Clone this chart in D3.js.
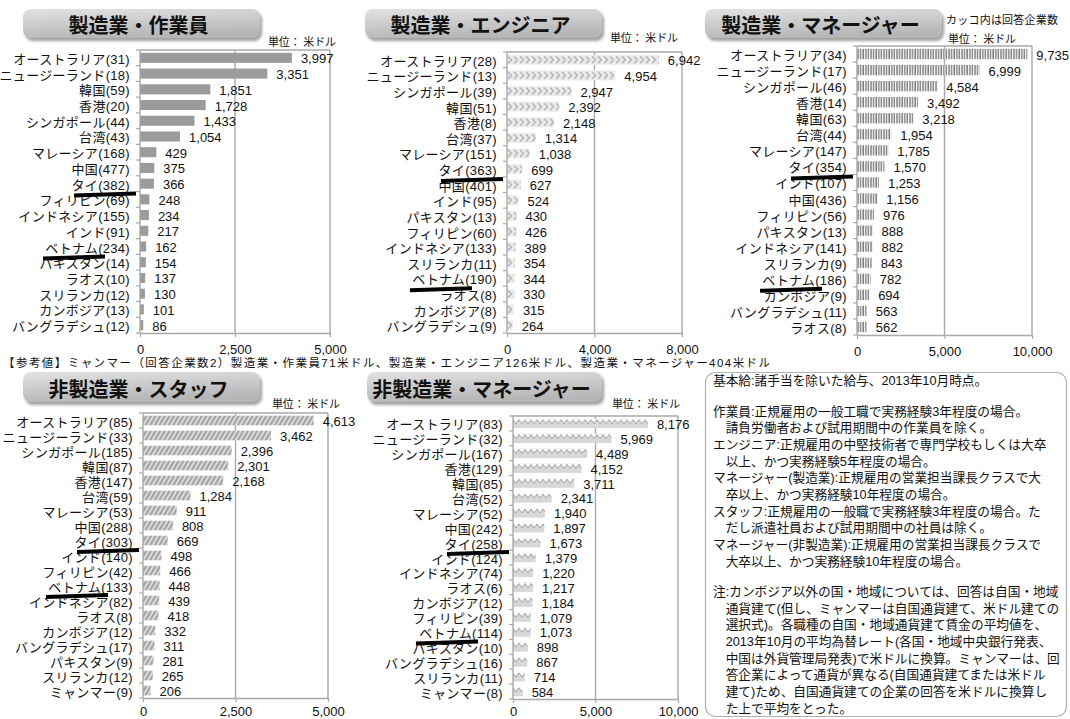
<!DOCTYPE html>
<html>
<head>
<meta charset="utf-8">
<script src="https://cdn.jsdelivr.net/npm/d3@7"></script>
<style>
  body { margin: 0; background: #fff; }
  svg text { font-family: "Liberation Sans", "Noto Sans CJK JP", sans-serif; fill: #111; }
</style>
</head>
<body>
<div id="chart"></div>
<script>
// ---- data ----
const mfgWorkerLabels = ["オーストラリア(31)", "ニュージーランド(18)", "韓国(59)", "香港(20)", "シンガポール(44)", "台湾(43)", "マレーシア(168)", "中国(477)", "タイ(382)", "フィリピン(69)", "インドネシア(155)", "インド(91)", "ベトナム(234)", "パキスタン(14)", "ラオス(10)", "スリランカ(12)", "カンボジア(13)", "バングラデシュ(12)"];
const mfgWorkerValues = [3997, 3351, 1851, 1728, 1433, 1054, 429, 375, 366, 248, 234, 217, 162, 154, 137, 130, 101, 86];

const mfgEngineerLabels = ["オーストラリア(28)", "ニュージーランド(13)", "シンガポール(39)", "韓国(51)", "香港(8)", "台湾(37)", "マレーシア(151)", "タイ(363)", "中国(401)", "インド(95)", "パキスタン(13)", "フィリピン(60)", "インドネシア(133)", "スリランカ(11)", "ベトナム(190)", "ラオス(8)", "カンボジア(8)", "バングラデシュ(9)"];
const mfgEngineerValues = [6942, 4954, 2947, 2392, 2148, 1314, 1038, 699, 627, 524, 430, 426, 389, 354, 344, 330, 315, 264];

const mfgManagerLabels = ["オーストラリア(34)", "ニュージーランド(17)", "シンガポール(46)", "香港(14)", "韓国(63)", "台湾(44)", "マレーシア(147)", "タイ(354)", "インド(107)", "中国(436)", "フィリピン(56)", "パキスタン(13)", "インドネシア(141)", "スリランカ(9)", "ベトナム(186)", "カンボジア(9)", "バングラデシュ(11)", "ラオス(8)"];
const mfgManagerValues = [9735, 6999, 4584, 3492, 3218, 1954, 1785, 1570, 1253, 1156, 976, 888, 882, 843, 782, 694, 563, 562];

const staffLabels = ["オーストラリア(85)", "ニュージーランド(33)", "シンガポール(185)", "韓国(87)", "香港(147)", "台湾(59)", "マレーシア(53)", "中国(288)", "タイ(303)", "インド(140)", "フィリピン(42)", "ベトナム(133)", "インドネシア(82)", "ラオス(8)", "カンボジア(12)", "バングラデシュ(17)", "パキスタン(9)", "スリランカ(12)", "ミャンマー(9)"];
const staffValues = [4613, 3462, 2396, 2301, 2168, 1284, 911, 808, 669, 498, 466, 448, 439, 418, 332, 311, 281, 265, 206];

const nonMfgManagerLabels = ["オーストラリア(83)", "ニュージーランド(32)", "シンガポール(167)", "香港(129)", "韓国(85)", "台湾(52)", "マレーシア(52)", "中国(242)", "タイ(258)", "インド(124)", "インドネシア(74)", "ラオス(6)", "カンボジア(12)", "フィリピン(39)", "ベトナム(114)", "パキスタン(10)", "バングラデシュ(16)", "スリランカ(11)", "ミャンマー(8)"];
const nonMfgManagerValues = [8176, 5969, 4489, 4152, 3711, 2341, 1940, 1897, 1673, 1379, 1220, 1217, 1184, 1079, 1073, 898, 867, 714, 584];

const ticks5000 = [0, 2500, 5000];
const ticks8000 = [0, 4000, 8000];
const ticks10000 = [0, 5000, 10000];

const panelTitles = ["製造業・作業員", "製造業・エンジニア", "製造業・マネージャー", "非製造業・スタッフ", "非製造業・マネージャー"];
const unitText = "単位：  米ドル";
const countNote = "カッコ内は回答企業数";
const myanmarNote = "【参考値】ミャンマー（回答企業数2）製造業・作業員71米ドル、製造業・エンジニア126米ドル、製造業・マネージャー404米ドル";
const markedPrefixes = ["タイ(", "ベトナム("];

const notesLines = [
  "基本給:諸手当を除いた給与、2013年10月時点。",
  "",
  "作業員:正規雇用の一般工職で実務経験3年程度の場合。",
  "　請負労働者および試用期間中の作業員を除く。",
  "エンジニア:正規雇用の中堅技術者で専門学校もしくは大卒",
  "　以上、かつ実務経験5年程度の場合。",
  "マネージャー(製造業):正規雇用の営業担当課長クラスで大",
  "　卒以上、かつ実務経験10年程度の場合。",
  "スタッフ:正規雇用の一般職で実務経験3年程度の場合。た",
  "　だし派遣社員および試用期間中の社員は除く。",
  "マネージャー(非製造業):正規雇用の営業担当課長クラスで",
  "　大卒以上、かつ実務経験10年程度の場合。",
  "",
  "注:カンボジア以外の国・地域については、回答は自国・地域",
  "　通貨建て(但し、ミャンマーは自国通貨建て、米ドル建ての",
  "　選択式)。各職種の自国・地域通貨建て賃金の平均値を、",
  "　2013年10月の平均為替レート(各国・地域中央銀行発表、",
  "　中国は外貨管理局発表)で米ドルに換算。ミャンマーは、回",
  "　答企業によって通貨が異なる(自国通貨建てまたは米ドル",
  "　建て)ため、自国通貨建ての企業の回答を米ドルに換算し",
  "　た上で平均をとった。"
];

// ---- layout ----
const W = 1070, H = 719;
const svg = d3.select("#chart").append("svg")
  .attr("width", W).attr("height", H);

const defs = svg.append("defs");

const grad = defs.append("linearGradient")
  .attr("id", "titleGrad").attr("x1", 0).attr("y1", 0).attr("x2", 0.3).attr("y2", 1);
grad.append("stop").attr("offset", "0%").attr("stop-color", "#e2e2e2");
grad.append("stop").attr("offset", "100%").attr("stop-color", "#b6b6b6");

const shadow = defs.append("filter").attr("id", "titleShadow")
  .attr("x", "-10%").attr("y", "-30%").attr("width", "130%").attr("height", "180%");
shadow.append("feDropShadow").attr("dx", 2).attr("dy", 3)
  .attr("stdDeviation", 1.8).attr("flood-color", "#777").attr("flood-opacity", 0.7);

// bar patterns (bars are drawn at local y=0, so patterns line up per bar)
const pChev = defs.append("pattern").attr("id", "pChev")
  .attr("patternUnits", "userSpaceOnUse").attr("width", 6).attr("height", 10);
pChev.append("rect").attr("width", 6).attr("height", 10).attr("fill", "#ececec");
pChev.append("path").attr("d", "M1,1.5 L4.5,5 L1,8.5").attr("fill", "none")
  .attr("stroke", "#b5b5b5").attr("stroke-width", 1.6);

const pDash = defs.append("pattern").attr("id", "pDash")
  .attr("patternUnits", "userSpaceOnUse").attr("width", 2.6).attr("height", 10);
pDash.append("rect").attr("width", 2.6).attr("height", 10).attr("fill", "#fff");
pDash.append("line").attr("x1", 1).attr("x2", 1).attr("y1", 0).attr("y2", 10)
  .attr("stroke", "#7a7a7a").attr("stroke-width", 1.4);

const pDiag = defs.append("pattern").attr("id", "pDiag")
  .attr("patternUnits", "userSpaceOnUse").attr("width", 4).attr("height", 4)
  .attr("patternTransform", "rotate(30)");
pDiag.append("rect").attr("width", 4).attr("height", 4).attr("fill", "#a3a3a3");
pDiag.append("line").attr("x1", 1).attr("x2", 1).attr("y1", 0).attr("y2", 4)
  .attr("stroke", "#fff").attr("stroke-width", 1.2);

const pZig = defs.append("pattern").attr("id", "pZig")
  .attr("patternUnits", "userSpaceOnUse").attr("width", 6).attr("height", 10);
pZig.append("rect").attr("width", 6).attr("height", 10).attr("fill", "#d8d8d8");
pZig.append("path").attr("d", "M0,0 L6,0 L6,1 L3,5 L0,1 Z").attr("fill", "#fff");
pZig.append("path").attr("d", "M0,1 L3,5 L6,1").attr("fill", "none")
  .attr("stroke", "#999").attr("stroke-width", 1);

const panels = [
  { title: panelTitles[0], labels: mfgWorkerLabels, values: mfgWorkerValues, ticks: ticks5000,
    box: [23, 9, 237, 29], unit: [268, 42], x0: 140, x1: 330, y0: 50, y1: 333, fill: "#9b9b9b", tickY: 349 },
  { title: panelTitles[1], labels: mfgEngineerLabels, values: mfgEngineerValues, ticks: ticks8000,
    box: [365, 9, 237, 29], unit: [610, 38], x0: 507, x1: 682, y0: 52, y1: 333, fill: "url(#pChev)", tickY: 349 },
  { title: panelTitles[2], labels: mfgManagerLabels, values: mfgManagerValues, ticks: ticks10000,
    box: [705, 9, 237, 29], unit: [948, 39], x0: 857, x1: 1032, y0: 46, y1: 335, fill: "url(#pDash)", tickY: 351 },
  { title: panelTitles[3], labels: staffLabels, values: staffValues, ticks: ticks5000,
    box: [23, 372, 237, 30], unit: [272, 404], x0: 143, x1: 328, y0: 413, y1: 698, fill: "url(#pDiag)", tickY: 711 },
  { title: panelTitles[4], labels: nonMfgManagerLabels, values: nonMfgManagerValues, ticks: ticks10000,
    box: [367, 372, 235, 30], unit: [612, 404], x0: 513, x1: 678, y0: 416, y1: 699, fill: "url(#pZig)", tickY: 711 }
];

const frameColor = "#a9a9a9";
const fmt = d3.format(",");

function drawPanel(p) {
  const g = svg.append("g");

  // title badge
  const [bx, by, bw, bh] = p.box;
  g.append("rect")
    .attr("x", bx).attr("y", by).attr("width", bw).attr("height", bh)
    .attr("rx", 8).attr("fill", "url(#titleGrad)")
    .attr("filter", "url(#titleShadow)");
  g.append("text")
    .attr("x", bx + bw / 2 - 3).attr("y", by + bh / 2 + 1)
    .attr("text-anchor", "middle").attr("dominant-baseline", "central")
    .style("font-family", "'Noto Sans CJK JP', sans-serif")
    .style("font-size", "20px").style("font-weight", "bold")
    .text(p.title);

  g.append("text")
    .attr("x", p.unit[0]).attr("y", p.unit[1])
    .attr("dominant-baseline", "central")
    .attr("textLength", 68).attr("lengthAdjust", "spacing")
    .style("font-size", "11px")
    .text(unitText);

  const x = d3.scaleLinear().domain([0, p.ticks[p.ticks.length - 1]]).range([p.x0, p.x1]);
  const y = d3.scaleBand().domain(p.labels).range([p.y0, p.y1]).paddingInner(0.36).paddingOuter(0.18);
  const step = y.step();

  // frame: top, right, mid grid
  p.ticks.slice(1).forEach(t => {
    g.append("line")
      .attr("x1", x(t)).attr("x2", x(t)).attr("y1", p.y0).attr("y2", p.y1)
      .attr("stroke", frameColor).attr("stroke-width", 1.4);
  });
  g.append("line")
    .attr("x1", p.x0).attr("x2", p.x1).attr("y1", p.y0).attr("y2", p.y0)
    .attr("stroke", frameColor).attr("stroke-width", 1.4);

  const rows = p.labels.map((l, i) => ({ label: l, value: p.values[i] }));

  // bars
  const bars = g.selectAll("g.bar")
    .data(rows)
    .enter().append("g")
    .attr("transform", d => `translate(${p.x0},${y(d.label)})`);
  bars.append("rect")
    .attr("x", 0).attr("y", 0)
    .attr("width", d => x(d.value) - p.x0)
    .attr("height", y.bandwidth())
    .attr("fill", p.fill);

  // value labels
  g.selectAll("text.val")
    .data(rows)
    .enter().append("text")
    .attr("x", d => x(d.value) + 9)
    .attr("y", d => y(d.label) + y.bandwidth() / 2 + 1)
    .attr("dominant-baseline", "central")
    .style("font-size", "13px")
    .text(d => fmt(d.value));

  // category labels
  g.selectAll("text.cat")
    .data(p.labels)
    .enter().append("text")
    .attr("x", p.x0 - 10)
    .attr("y", d => y(d) + y.bandwidth() / 2 + 1.5)
    .attr("text-anchor", "end")
    .attr("dominant-baseline", "central")
    .style("font-size", "13px")
    .style("letter-spacing", "0.3px")
    .text(d => d);

  // left axis with tick marks at band boundaries
  g.append("line")
    .attr("x1", p.x0).attr("x2", p.x0).attr("y1", p.y0).attr("y2", p.y1)
    .attr("stroke", frameColor).attr("stroke-width", 1.4);
  d3.range(p.labels.length + 1).forEach(i => {
    const yy = p.y0 + i * step;
    g.append("line")
      .attr("x1", p.x0 - 4).attr("x2", p.x0).attr("y1", yy).attr("y2", yy)
      .attr("stroke", frameColor).attr("stroke-width", 1.2);
  });

  // bottom axis
  const ax = g.append("g")
    .attr("transform", `translate(0,${p.y1})`)
    .call(d3.axisBottom(x).tickValues(p.ticks).tickFormat(fmt).tickSize(4).tickSizeOuter(0));
  ax.select(".domain").attr("stroke", frameColor).attr("stroke-width", 1.4);
  ax.selectAll(".tick line").attr("stroke", frameColor).attr("stroke-width", 1.2);
  ax.selectAll(".tick text")
    .attr("y", null).attr("dy", null)
    .attr("transform", `translate(0,${p.tickY - p.y1})`)
    .attr("dominant-baseline", "central")
    .style("font-size", "13px")
    .style("font-family", "'Liberation Sans', sans-serif")
    .attr("fill", "#111");

  // hand-drawn black marks over タイ / ベトナム labels
  markedPrefixes.forEach((prefix, k) => {
    const lab = p.labels.find(l => l.startsWith(prefix));
    if (!lab) return;
    const yy = y(lab) - y.step() * y.paddingInner() / 2 + step + 3;
    const right = k === 0 ? p.x0 - 4 : p.x0 - 35;
    g.append("line")
      .attr("x1", right - 62).attr("x2", right)
      .attr("y1", yy + 1).attr("y2", yy - 1)
      .attr("stroke", "#000").attr("stroke-width", 4);
  });
}

panels.forEach(drawPanel);

// extra captions
svg.append("text")
  .attr("x", 946).attr("y", 20)
  .attr("dominant-baseline", "central")
  .attr("textLength", 112).attr("lengthAdjust", "spacing")
  .style("font-size", "11px")
  .text(countNote);

svg.append("text")
  .attr("x", 3).attr("y", 363)
  .attr("dominant-baseline", "central")
  .attr("textLength", 767).attr("lengthAdjust", "spacing")
  .style("font-size", "11.5px")
  .text(myanmarNote);

// notes box
svg.append("rect")
  .attr("x", 705.5).attr("y", 372.5).attr("width", 361).attr("height", 344)
  .attr("rx", 10).attr("fill", "#fff")
  .attr("stroke", "#b0b0b0").attr("stroke-width", 1.2);

let ny = 381;
notesLines.forEach(line => {
  if (line === "") { ny += 14; return; }
  svg.append("text")
    .attr("x", 713).attr("y", ny)
    .attr("dominant-baseline", "central")
    .style("font-size", "12.7px")
    .style("font-family", "'Liberation Sans', 'Noto Sans CJK JP', sans-serif")
    .text(line);
  ny += 16.65;
});
</script>
</body>
</html>
